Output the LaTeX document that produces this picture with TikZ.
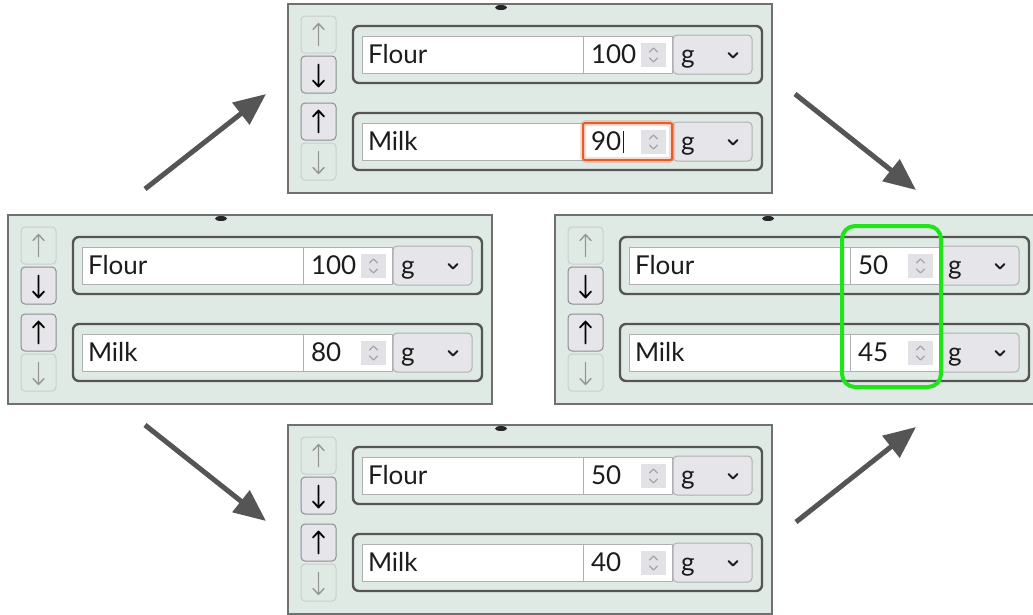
\documentclass[tikz,border=0pt]{standalone}
\usepackage{fontspec}
\setmainfont{Lato}
\usetikzlibrary{arrows.meta}

\definecolor{panelbg}{RGB}{224,234,229}
\definecolor{panelline}{RGB}{112,112,112}
\definecolor{rowline}{RGB}{85,85,85}
\definecolor{fieldline}{RGB}{176,176,180}
\definecolor{btnfill}{RGB}{230,230,234}
\definecolor{btnline}{RGB}{140,140,146}
\definecolor{btnoffline}{RGB}{200,206,203}
\definecolor{iconoff}{RGB}{150,150,150}
\definecolor{spinfill}{RGB}{226,226,230}
\definecolor{spinchevcol}{RGB}{165,165,170}
\definecolor{textcol}{RGB}{28,28,28}
\definecolor{flowarrow}{RGB}{85,85,85}
\definecolor{focuscol}{RGB}{232,92,44}
\definecolor{goodcol}{RGB}{30,228,24}

\tikzset{
  every node/.style={inner sep=0pt, outer sep=0pt},
  panelbox/.style={anchor=north west, draw=panelline, line width=2pt, fill=panelbg,
    minimum width=484pt, minimum height=189pt},
  rowframe/.style={anchor=north west, draw=rowline, line width=2.4pt, rounded corners=6pt,
    minimum width=409pt, minimum height=57pt},
  namefield/.style={anchor=north west, draw=fieldline, line width=1pt, fill=white,
    minimum width=221pt, minimum height=37pt},
  numfield/.style={anchor=north west, draw=fieldline, line width=1pt, fill=white,
    minimum width=89pt, minimum height=37pt},
  spinbox/.style={anchor=north west, fill=spinfill, minimum width=25pt, minimum height=24pt},
  unitbox/.style={anchor=north west, draw=fieldline, line width=1pt, fill=btnfill,
    rounded corners=4pt, minimum width=79pt, minimum height=39pt},
  btnon/.style={anchor=north west, draw=btnline, line width=1pt, fill=btnfill,
    rounded corners=4pt, minimum width=35pt, minimum height=37pt},
  btnoff/.style={anchor=north west, draw=btnoffline, line width=1pt, fill=panelbg,
    rounded corners=4pt, minimum width=35pt, minimum height=37pt},
  iconon/.style={draw=black, line width=1.8pt, line cap=round, line join=round},
  iconoffstyle/.style={draw=iconoff, line width=1.4pt, line cap=round, line join=round},
  fieldtext/.style={anchor=base west, text=textcol, font=\fontsize{26}{26}\selectfont},
  spinchev/.style={draw=spinchevcol, line width=1.2pt, line cap=round, line join=round},
  ddchev/.style={draw=textcol, line width=2pt, line cap=round, line join=round},
  flow/.style={draw=flowarrow, line width=5pt, -{Triangle[length=32pt,width=27pt]}},
  focusglow/.style={draw=focuscol, draw opacity=0.22, line width=6pt, rounded corners=3pt},
  focusring/.style={draw=focuscol, line width=2pt, rounded corners=2pt},
  goodring/.style={draw=goodcol, line width=4pt, rounded corners=13pt},
}

% arrow icons inside the reorder buttons
\newcommand\upicon[2]{%
  \draw[#2] (#1.center) ++(0,11) -- ++(0,-22) ++(-5.5,6) -- ++(5.5,-6) -- ++(5.5,6);}
\newcommand\downicon[2]{%
  \draw[#2] (#1.center) ++(0,-10) -- ++(0,22) ++(-5.5,-6) -- ++(5.5,6) -- ++(5.5,-6);}

% one ingredient row: #1 panel, #2 key, #3 vertical offset, #4 name, #5 amount
\newcommand\ingrow[5]{%
  \begin{scope}[shift={(0,#3)}]
    \node[rowframe] (#1-#2) at (65,22) {};
    \node[namefield] (#1-#2-name) at (74,32) {};
    \node[numfield] (#1-#2-num) at (295,32) {};
    \node[spinbox] (#1-#2-spin) at (353,39) {};
    \node[unitbox] (#1-#2-unit) at (385,31) {};
    \node[fieldtext] (#1-#2-label) at (80,59) {#4};
    \node[fieldtext] (#1-#2-val) at (303,59) {#5};
    \node[fieldtext] (#1-#2-g) at (393,59) {g};
    \draw[spinchev] (#1-#2-spin.center) ++(-4,-3) -- ++(4,-4) -- ++(4,4);
    \draw[spinchev] (#1-#2-spin.center) ++(-4,3) -- ++(4,4) -- ++(4,-4);
    \draw[ddchev] (#1-#2-unit.center) ++(16,-1.5) -- ++(4.5,4.5) -- ++(4.5,-4.5);
  \end{scope}}

% a whole recipe panel: #1 name, #2 top-left corner, #3 flour amount, #4 milk amount
\newcommand\uipanel[4]{%
  \begin{scope}[shift={#2}]
    \node[panelbox] (#1) at (0,0) {};
    \fill[black!85] (213,3.5) ellipse[x radius=6, y radius=2.5];
    \node[btnoff] (#1-up1) at (13,12) {};
    \node[btnon] (#1-dn1) at (13,52) {};
    \node[btnon] (#1-up2) at (13,99) {};
    \node[btnoff] (#1-dn2) at (13,139) {};
    \upicon{#1-up1}{iconoffstyle}
    \downicon{#1-dn1}{iconon}
    \upicon{#1-up2}{iconon}
    \downicon{#1-dn2}{iconoffstyle}
    \ingrow{#1}{flour}{0}{Flour}{#3}
    \ingrow{#1}{milk}{87}{Milk}{#4}
  \end{scope}}

\begin{document}
\begin{tikzpicture}[x=1pt, y=-1pt]
  \useasboundingbox (0,0) rectangle (1033,614);
  \clip (0,0) rectangle (1033,614);

  \uipanel{start}{(8,215)}{100}{80}
  \uipanel{edit}{(288,4)}{100}{90}
  \uipanel{scaled}{(288,425)}{50}{40}
  \uipanel{result}{(555,215)}{50}{45}

  % focused amount field with text cursor
  \draw[focusglow] (edit-milk-num.north west) rectangle (edit-milk-num.south east);
  \draw[focusring] (edit-milk-num.north west) rectangle (edit-milk-num.south east);
  \draw[textcol, line width=1.2pt] ([xshift=2pt,yshift=-3pt]edit-milk-val.base east)
    -- ([xshift=2pt,yshift=19pt]edit-milk-val.base east);

  % highlighted result amounts
  \draw[goodring] (842,226) rectangle (941,387);

  % flow between the states
  \coordinate (f1s) at (145,189); \coordinate (f1e) at (266,94);
  \coordinate (f2s) at (795,94);  \coordinate (f2e) at (916,190);
  \coordinate (f3s) at (145,425); \coordinate (f3e) at (266,521);
  \coordinate (f4s) at (796,522); \coordinate (f4e) at (916,427);
  \draw[flow] (f1s) -- (f1e);
  \draw[flow] (f2s) -- (f2e);
  \draw[flow] (f3s) -- (f3e);
  \draw[flow] (f4s) -- (f4e);
\end{tikzpicture}
\end{document}
